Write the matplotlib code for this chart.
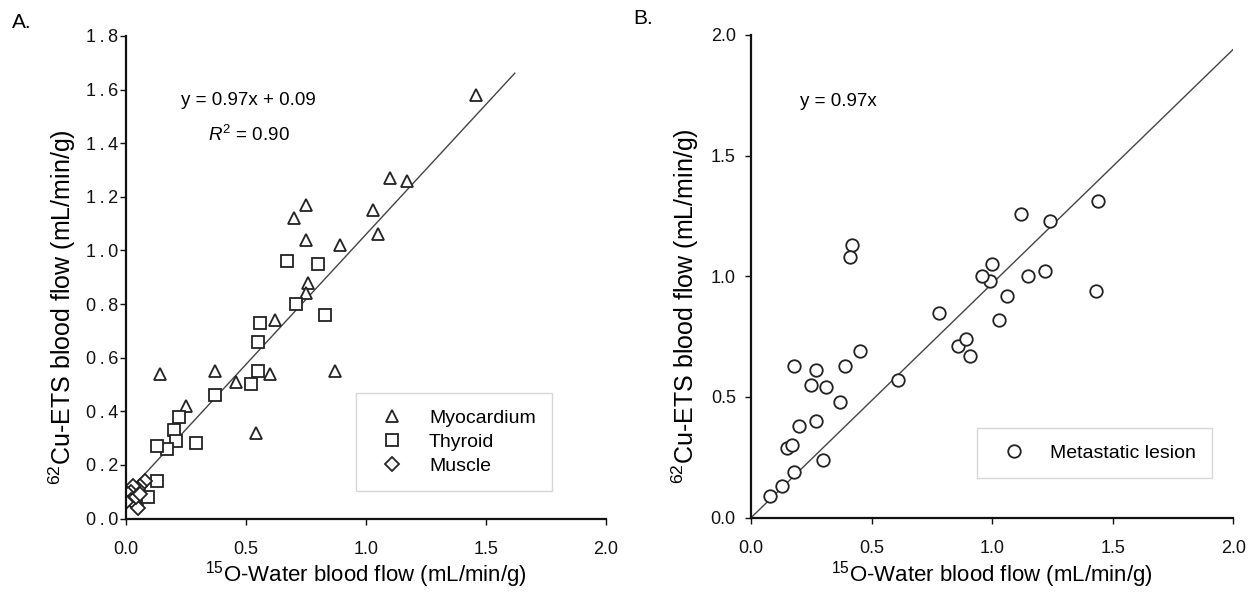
import matplotlib
matplotlib.use("Agg")
import matplotlib.pyplot as plt
from matplotlib.ticker import FuncFormatter, FormatStrFormatter
import numpy as np

plt.rcParams["font.family"] = ["Liberation Sans", "DejaVu Sans"]
plt.rcParams["mathtext.fontset"] = "custom"
plt.rcParams["mathtext.rm"] = "Liberation Sans"
plt.rcParams["mathtext.it"] = "Liberation Sans:italic"

# painel A
miocardio_x = [1.46, 1.10, 1.17, 1.03, 1.05, 0.89, 0.75, 0.70, 0.75, 0.76,
               0.75, 0.62, 0.60, 0.87, 0.54, 0.46, 0.37, 0.25, 0.14]
miocardio_y = [1.58, 1.27, 1.26, 1.15, 1.06, 1.02, 1.17, 1.12, 1.04, 0.88,
               0.84, 0.74, 0.54, 0.55, 0.32, 0.51, 0.55, 0.42, 0.54]

tireoide_x = [0.67, 0.80, 0.71, 0.83, 0.56, 0.55, 0.55, 0.52, 0.37, 0.22,
              0.20, 0.21, 0.17, 0.13, 0.29, 0.13, 0.09]
tireoide_y = [0.96, 0.95, 0.80, 0.76, 0.73, 0.66, 0.55, 0.50, 0.46, 0.38,
              0.33, 0.29, 0.26, 0.27, 0.28, 0.14, 0.08]

musculo_x = [0.08, 0.06, 0.05, 0.04, 0.03, 0.02, 0.01, 0.02, 0.03, 0.04,
             0.05, 0.04, 0.06, 0.00]
musculo_y = [0.14, 0.12, 0.11, 0.10, 0.12, 0.10, 0.09, 0.07, 0.06, 0.05,
             0.04, 0.08, 0.09, 0.06]

# painel B
lesao_x = [0.08, 0.13, 0.18, 0.30, 0.15, 0.17, 0.20, 0.27, 0.37, 0.25,
           0.31, 0.18, 0.27, 0.39, 0.45, 0.61, 0.78, 0.86, 0.89, 0.91,
           0.99, 1.06, 1.03, 0.42, 0.41, 1.44, 1.12, 1.24, 1.00, 0.96,
           1.15, 1.22, 1.43]
lesao_y = [0.09, 0.13, 0.19, 0.24, 0.29, 0.30, 0.38, 0.40, 0.48, 0.55,
           0.54, 0.63, 0.61, 0.63, 0.69, 0.57, 0.85, 0.71, 0.74, 0.67,
           0.98, 0.92, 0.82, 1.13, 1.08, 1.31, 1.26, 1.23, 1.05, 1.00,
           1.00, 1.02, 0.94]

# retas de regressao (coeficientes do texto da figura)
a_A, b_A = 0.97, 0.09
a_B = 0.97

ylabel = r"$^{62}$Cu-ETS blood flow (mL/min/g)"
xlabel = r"$^{15}$O-Water blood flow (mL/min/g)"

fig = plt.figure(figsize=(12.56, 5.96), dpi=100)
axA = fig.add_axes([0.1003, 0.130, 0.3822, 0.8096])
axB = fig.add_axes([0.598, 0.1314, 0.3838, 0.810])

mk = dict(linestyle="none", markerfacecolor="white", markeredgecolor="#222222",
          markeredgewidth=1.3)

leg_kw = dict(loc="center", fontsize=14, frameon=True, fancybox=False,
              edgecolor="#cccccc", borderpad=0.82, labelspacing=0.34,
              handlelength=2.1, handletextpad=0.84, numpoints=1)


def estilo(ax, pad_y):
    for s in ["top", "right"]:
        ax.spines[s].set_visible(False)
    for s in ["left", "bottom"]:
        ax.spines[s].set_linewidth(1.6)
        ax.spines[s].set_color("#111111")
    ax.tick_params(direction="out", length=4, width=1.0,
                   labelsize=13, colors="#111111")
    ax.tick_params(axis="x", pad=12)
    ax.tick_params(axis="y", pad=pad_y)
    ax.xaxis.set_major_formatter(FormatStrFormatter("%.1f"))


# A
xl = np.array([0.0, 1.62])
axA.plot(xl, a_A * xl + b_A, color="#444444", lw=1.0, zorder=1)
axA.plot(miocardio_x, miocardio_y, marker="^", markersize=8.5, label="Myocardium", **mk)
axA.plot(tireoide_x, tireoide_y, marker="s", markersize=8, label="Thyroid", **mk)
axA.plot(musculo_x, musculo_y, marker="D", markersize=7, label="Muscle", **mk)
axA.set_xlim(0, 2.0)
axA.set_ylim(0, 1.8)
axA.set_xticks(np.arange(0, 2.01, 0.5))
axA.set_yticks(np.arange(0, 1.81, 0.2))
estilo(axA, 1.5)
# os rotulos do eixo y do painel A sao mais espacados
axA.yaxis.set_major_formatter(FuncFormatter(lambda v, p: "\u2009".join(f"{v:.1f}")))
axA.set_xlabel(xlabel, fontsize=16)
axA.xaxis.set_label_coords(0.5, -0.085)
axA.text(-0.133, 0.438, ylabel, rotation=90, fontsize=18, ha="center", va="center",
         transform=axA.transAxes)
axA.text(0.51, 1.559, "y = 0.97x + 0.09", fontsize=13.5, ha="center", va="center")
axA.text(0.513, 1.43, "$R^2$ = 0.90", fontsize=13.5, ha="center", va="center")
legA = axA.legend(bbox_to_anchor=(0.683, 0.1585), **leg_kw)
legA.get_frame().set_linewidth(1.0)
fig.text(0.0096, 0.962, "A.", fontsize=15, va="center")

# B
xl = np.array([0.0, 2.0])
axB.plot(xl, a_B * xl, color="#444444", lw=1.0, zorder=1)
axB.plot(lesao_x, lesao_y, marker="o", markersize=9, label="Metastatic lesion", **mk)
axB.set_xlim(0, 2.0)
axB.set_ylim(0, 2.0)
axB.set_xticks(np.arange(0, 2.01, 0.5))
axB.set_yticks(np.arange(0, 2.01, 0.5))
estilo(axB, 7)
axB.yaxis.set_major_formatter(FormatStrFormatter("%.1f"))
axB.set_xlabel(xlabel, fontsize=16)
axB.xaxis.set_label_coords(0.5, -0.085)
axB.text(-0.137, 0.438, ylabel, rotation=90, fontsize=18, ha="center", va="center",
         transform=axB.transAxes)
axB.text(0.363, 1.723, "y = 0.97x", fontsize=13.5, ha="center", va="center")
legB = axB.legend(bbox_to_anchor=(0.7127, 0.134), **leg_kw)
legB.get_frame().set_linewidth(1.0)
fig.text(0.504, 0.969, "B.", fontsize=15, va="center")

fig.savefig("out.png", dpi=100)
